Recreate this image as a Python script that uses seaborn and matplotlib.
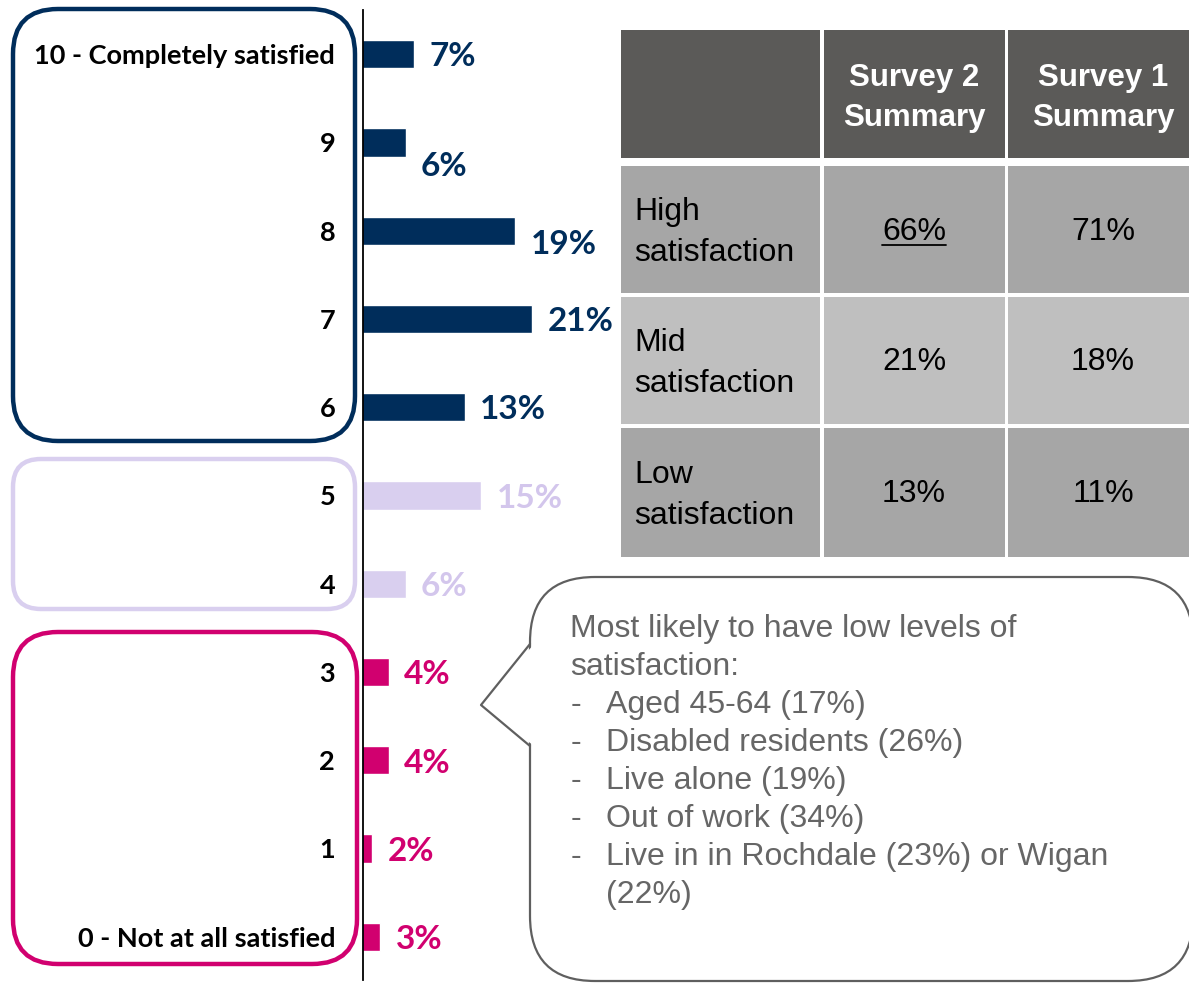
import numpy as np
import pandas as pd
import matplotlib.pyplot as plt
import seaborn as sns
from matplotlib.patches import FancyBboxPatch, Rectangle, Polygon

# 数据: satisfaction score distribution
scores = ["10 - Completely satisfied", "9", "8", "7", "6", "5", "4", "3", "2", "1",
          "0 - Not at all satisfied"]
pcts = [7, 6, 19, 21, 13, 15, 6, 4, 4, 2, 3]
groups = ["High"] * 5 + ["Mid"] * 2 + ["Low"] * 4

# summary table
table_rows = ["High\nsatisfaction", "Mid\nsatisfaction", "Low\nsatisfaction"]
table_cols = ["Survey 2\nSummary", "Survey 1\nSummary"]
survey2 = ["66%", "21%", "13%"]
survey1 = ["71%", "18%", "11%"]

# callout text
callout_title = ["Most likely to have low levels of", "satisfaction:"]
callout_items = ["Aged 45-64 (17%)", "Disabled residents (26%)", "Live alone (19%)",
                 "Out of work (34%)", "Live in in Rochdale (23%) or Wigan\n(22%)"]

# 颜色
navy = "#002D5B"
lav = "#D9CFEF"
lav_text = "#D3C6EC"
mag = "#D1006F"
group_colors = {"High": navy, "Mid": lav, "Low": mag}
label_colors = {"High": navy, "Mid": lav_text, "Low": mag}
label_shift = [-2, -17, -10, -2, -2, -2, -2, -2, -2, -2, -2]  # points, a few labels sit lower

sns.set_style("white")
plt.rcParams['font.family'] = ['Liberation Sans', 'DejaVu Sans']

W, H = 1189, 983
fig = plt.figure(figsize=(W / 100, H / 100), dpi=100)

# overlay axes in pixel units for boxes, table and callout
ov = fig.add_axes([0, 0, 1, 1])
ov.set_xlim(0, W)
ov.set_ylim(H, 0)
ov.axis('off')
ov.patch.set_alpha(0)

# bar chart
ax = fig.add_axes([363 / W, 1 - 980 / H, 257 / W, 970 / H])
ax.patch.set_alpha(0)
df = pd.DataFrame({"score": scores, "pct": pcts, "group": groups})
sns.barplot(data=df, x="pct", y="score", hue="group", palette=group_colors,
            dodge=False, width=0.32, legend=False, saturation=1, orient="h", ax=ax)
ax.set_xlim(0.93, 0.93 + 257 / 8.42)
ax.set_ylim(10.49, -0.5)
for s in ["top", "right", "bottom"]:
    ax.spines[s].set_visible(False)
ax.spines["left"].set_color("black")
ax.spines["left"].set_linewidth(1.3)
ax.spines["left"].set_zorder(5)
ax.set_xticks([])
ax.set_xlabel("")
ax.set_ylabel("")
ax.tick_params(axis="y", length=0, pad=20, labelsize=19.5, labelcolor="black")
for t in ax.get_yticklabels():
    t.set_fontweight("bold")
    t.set_family(["Lato", "DejaVu Sans"])

for i, (p, g) in enumerate(zip(pcts, groups)):
    ax.annotate(f"{p}%", xy=(p, i), xytext=(11, label_shift[i]), textcoords="offset points",
                ha="left", va="center", fontsize=24, fontweight="bold",
                color=label_colors[g], family=["Lato", "DejaVu Sans"], annotation_clip=False)

# rounded group boxes
for (x0, y0, x1, y1, r, c) in [(13, 9, 355, 441, 45, navy),
                               (13, 459, 355, 609, 28, lav),
                               (13, 632, 357, 964, 45, mag)]:
    ov.add_patch(FancyBboxPatch((x0, y0), x1 - x0, y1 - y0,
                                boxstyle=f"round,pad=0,rounding_size={r}",
                                fc="none", ec=c, lw=3.2))

# summary table
col_x = [(621, 820), (824, 1005), (1008, 1195)]
row_y = [(30, 158), (166, 293), (297, 424), (428, 557)]
header_bg = "#5B5A58"
body_bg = ["#A6A6A6", "#BFBFBF", "#A6A6A6"]
val_x = [914, 1103]
for (x0, x1) in col_x:
    y0, y1 = row_y[0]
    ov.add_patch(Rectangle((x0, y0), x1 - x0, y1 - y0, fc=header_bg, ec="none"))
for j, lab in enumerate(table_cols):
    ov.text(val_x[j], 98, lab, ha="center", va="center", color="white",
            fontsize=22.5, fontweight="bold", linespacing=1.42)

underline = []
for i, lab in enumerate(table_rows):
    y0, y1 = row_y[i + 1]
    for (x0, x1) in col_x:
        ov.add_patch(Rectangle((x0, y0), x1 - x0, y1 - y0, fc=body_bg[i], ec="none"))
    yc = (y0 + y1) / 2
    ov.text(634, yc + 3, lab, ha="left", va="center", color="black", fontsize=23,
            linespacing=1.45)
    t2 = ov.text(val_x[0], yc + 2, survey2[i], ha="center", va="center", color="black",
                 fontsize=23)
    ov.text(val_x[1], yc + 2, survey1[i], ha="center", va="center", color="black",
            fontsize=23)
    if i == 0:
        underline.append(t2)

# callout bubble
edge = "#5F5F5F"
ov.add_patch(FancyBboxPatch((530, 577), 663, 404, boxstyle="round,pad=0,rounding_size=65",
                            fc="white", ec=edge, lw=1.6))
ov.add_patch(Polygon([(534, 644), (482, 705), (534, 746)], closed=True, fc="white",
                     ec="none", zorder=3))
ov.plot([530, 481, 530], [644, 705, 746], color=edge, lw=1.6, zorder=4)

txt_color = "#666666"
y = 629
for line in callout_title:
    ov.text(570, y, line, ha="left", va="center", color=txt_color, fontsize=23, zorder=5)
    y += 38
for item in callout_items:
    for k, line in enumerate(item.split("\n")):
        if k == 0:
            ov.text(571, y, "-", ha="left", va="center", color=txt_color, fontsize=23, zorder=5)
        ov.text(606, y, line, ha="left", va="center", color=txt_color, fontsize=23, zorder=5)
        y += 38

# underline the highlighted value
fig.canvas.draw()
renderer = fig.canvas.get_renderer()
inv = ov.transData.inverted()
for t in underline:
    bb = t.get_window_extent(renderer)
    (xa, ya), (xb, yb) = inv.transform([(bb.x0, bb.y0), (bb.x1, bb.y0)])
    ov.plot([xa, xb], [ya - 2, yb - 2], color="black", lw=1.3)

fig.savefig("out.png", dpi=100)
